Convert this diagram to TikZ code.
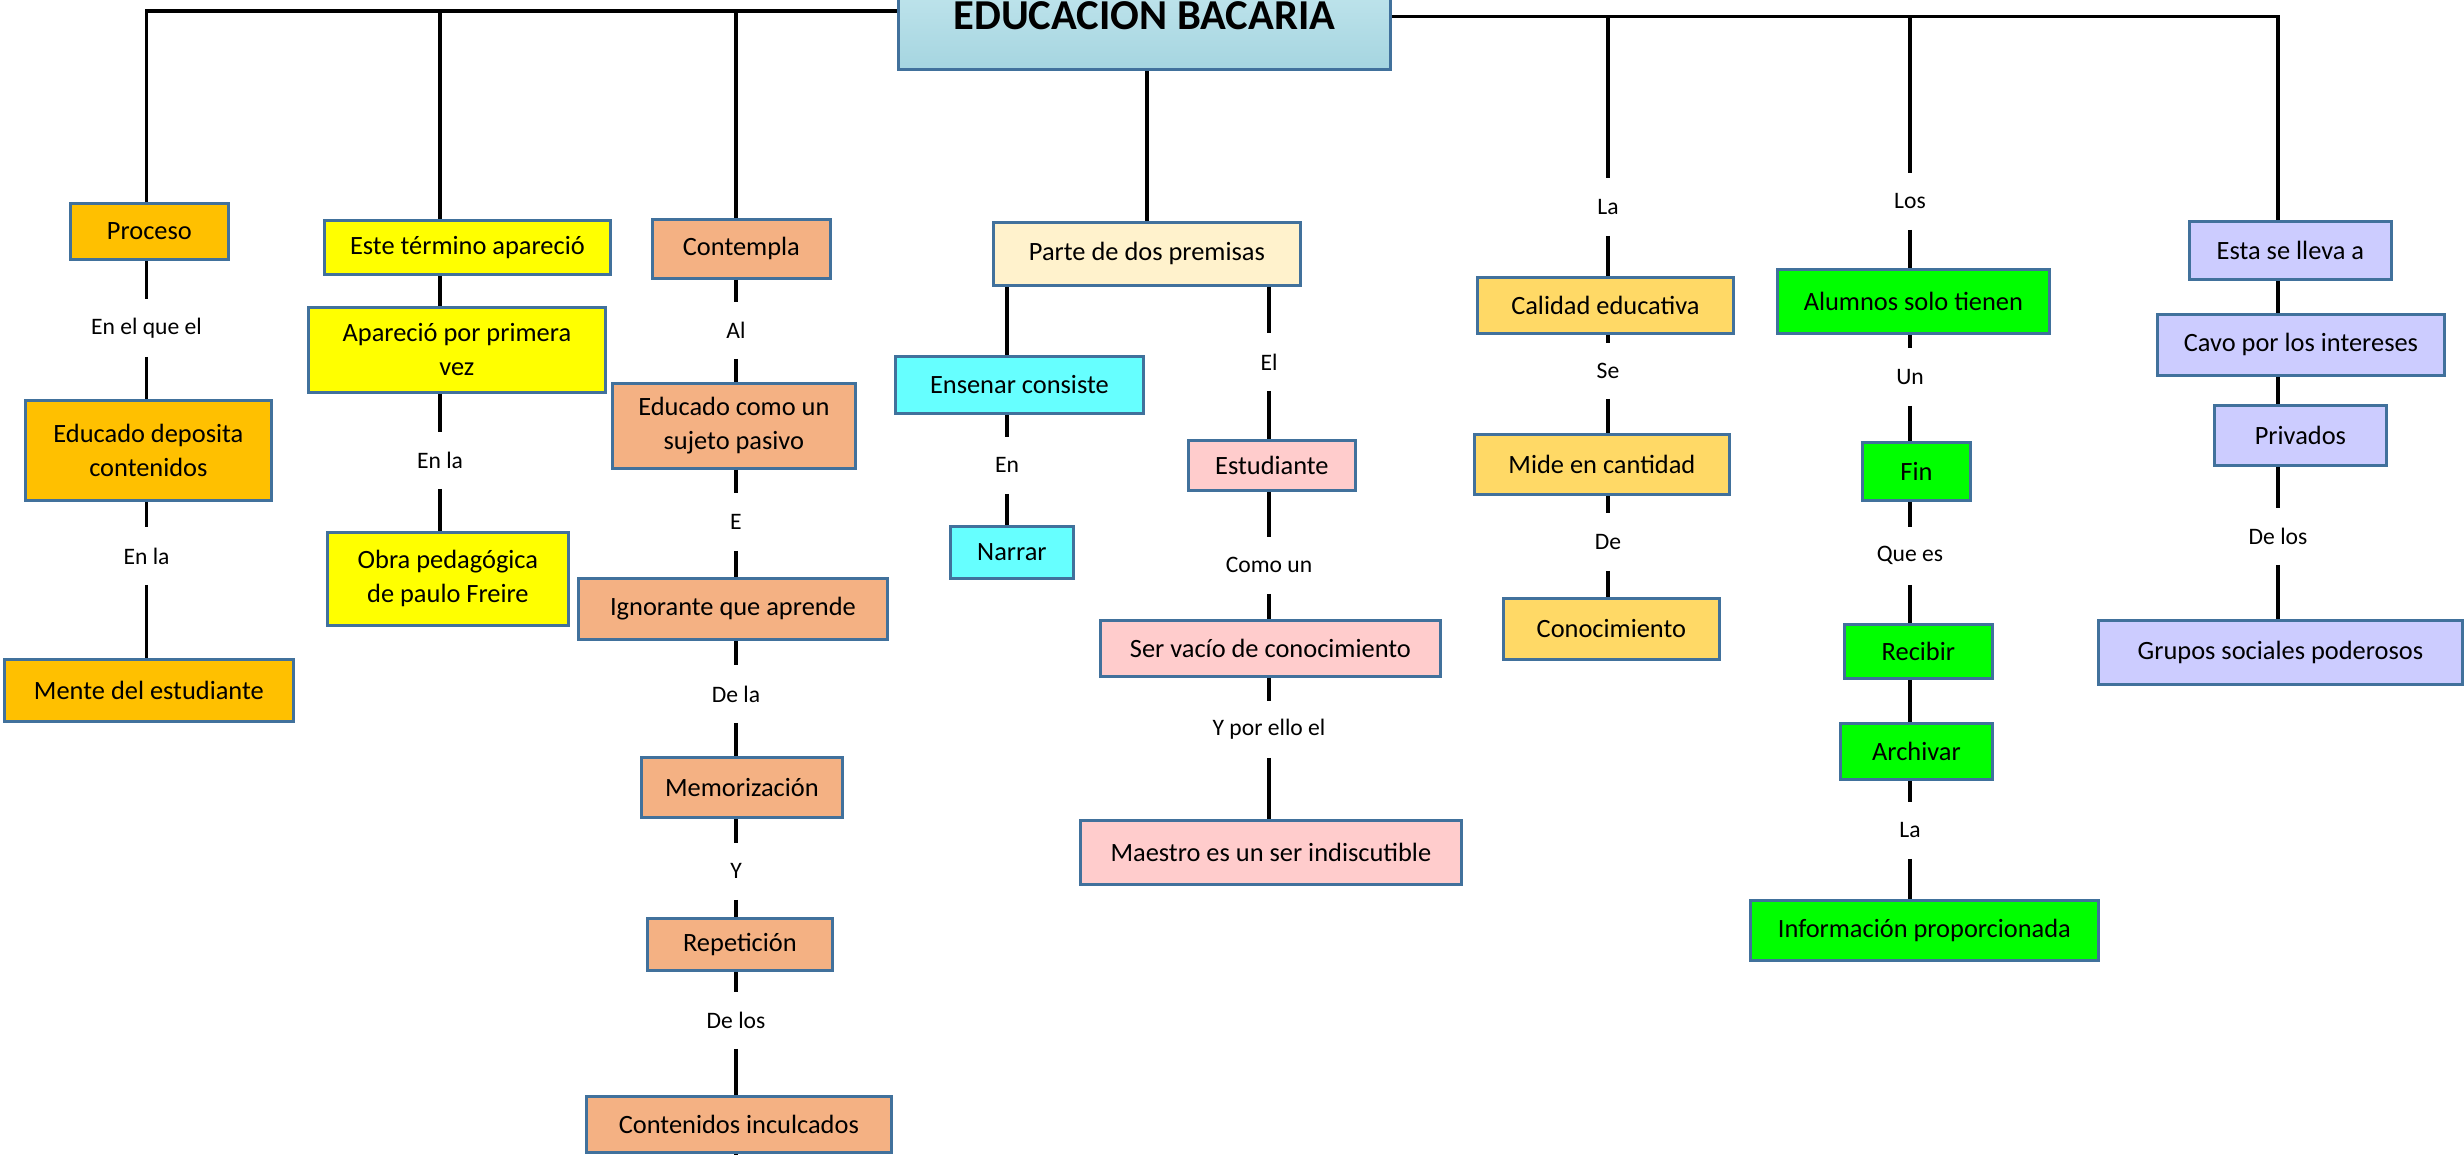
\documentclass[tikz,border=0pt]{standalone}
\usepackage{fontspec}
\setmainfont{Carlito}
\usetikzlibrary{calc}
\definecolor{bord}{RGB}{65,113,156}
\definecolor{cOr}{HTML}{FFC000}
\definecolor{cYe}{HTML}{FFFF00}
\definecolor{cSa}{HTML}{F4B183}
\definecolor{cCr}{HTML}{FFF2CC}
\definecolor{cCy}{HTML}{66FFFF}
\definecolor{cPk}{HTML}{FFCCCC}
\definecolor{cGo}{HTML}{FFD966}
\definecolor{cGr}{HTML}{00FF00}
\definecolor{cLa}{HTML}{CCCCFF}
\definecolor{titA}{RGB}{200,233,240}
\definecolor{titB}{RGB}{165,213,224}
\begin{document}
\begin{tikzpicture}[x=0.5pt,y=-0.5pt,
  box/.style={draw=bord,line width=1.4pt,inner sep=2pt,align=center,
    font=\fontsize{13.2pt}{17pt}\selectfont,anchor=north west},
  lbl/.style={inner sep=0pt,font=\fontsize{11.8pt}{14pt}\selectfont,anchor=north},
  conn/.style={line width=1.9pt,black}]
\path[use as bounding box] (0,0) rectangle (2464,1155);
\clip (0,0) rectangle (2464,1155);
\fill[white] (0,0) rectangle (2464,1155);

% column coordinates
\coordinate (c1) at (146.5,0);
\coordinate (c2) at (440,0);
\coordinate (c3) at (736,0);
\coordinate (cm) at (1147,0);
\coordinate (cp) at (1007,0);
\coordinate (ce) at (1269,0);
\coordinate (c5) at (1608,0);
\coordinate (c6) at (1910,0);
\coordinate (c7) at (2278,0);
\coordinate (topL) at (0,11);
\coordinate (topR) at (0,16.5);
\coordinate (cend) at (736,1165);

% title
\node[draw=bord,line width=1.4pt,anchor=north west,minimum width=246pt,minimum height=54pt,
  top color=titA,bottom color=titB,inner sep=0pt,
  font=\fontsize{21.3pt}{25pt}\selectfont\bfseries] (title) at (897,-40) {EDUCACION BACARIA};

% boxes
\node[box,fill=cOr,minimum width=79pt,minimum height=28pt] (proceso) at (69,202) {Proceso};
\node[box,fill=cOr,minimum width=123pt,minimum height=50pt] (educado) at (24,399) {Educado deposita\\contenidos};
\node[box,fill=cOr,minimum width=144.5pt,minimum height=31pt] (mente) at (3,658) {Mente del estudiante};
\node[box,fill=cYe,minimum width=143pt,minimum height=27pt] (este) at (323,219) {Este término apareció};
\node[box,fill=cYe,minimum width=148.5pt,minimum height=42.5pt] (aparecio) at (307,306) {Apareció por primera\\vez};
\node[box,fill=cYe,minimum width=120.5pt,minimum height=46.5pt] (obra) at (326,531) {Obra pedagógica\\de paulo Freire};
\node[box,fill=cSa,minimum width=89pt,minimum height=29.5pt] (contempla) at (651,218) {Contempla};
\node[box,fill=cSa,minimum width=121.5pt,minimum height=42.5pt] (edcomo) at (611,382) {Educado como un\\sujeto pasivo};
\node[box,fill=cSa,minimum width=154.5pt,minimum height=30.5pt] (ignorante) at (577,577) {Ignorante que aprende};
\node[box,fill=cSa,minimum width=100.5pt,minimum height=30pt] (memo) at (640,756) {Memorización};
\node[box,fill=cSa,minimum width=92.5pt,minimum height=26pt] (repe) at (646,917) {Repetición};
\node[box,fill=cSa,minimum width=152.5pt,minimum height=28pt] (conten) at (585,1095) {Contenidos inculcados};
\node[box,fill=cCr,minimum width=153.5pt,minimum height=31.5pt] (parte) at (992,221) {Parte de dos premisas};
\node[box,fill=cCy,minimum width=124pt,minimum height=28.5pt] (ensenar) at (894,355) {Ensenar consiste};
\node[box,fill=cCy,minimum width=61.5pt,minimum height=26pt] (narrar) at (949,525) {Narrar};
\node[box,fill=cPk,minimum width=83.5pt,minimum height=25pt] (estud) at (1187,439) {Estudiante};
\node[box,fill=cPk,minimum width=170pt,minimum height=28pt] (vacio) at (1099,619) {Ser vacío de conocimiento};
\node[box,fill=cPk,minimum width=190.5pt,minimum height=32pt] (maestro) at (1079,819) {Maestro es un ser indiscutible};
\node[box,fill=cGo,minimum width=128pt,minimum height=28pt] (calidad) at (1476,276) {Calidad educativa};
\node[box,fill=cGo,minimum width=127.5pt,minimum height=30pt] (mide) at (1473,433) {Mide en cantidad};
\node[box,fill=cGo,minimum width=108pt,minimum height=30.5pt] (conoc) at (1502,597) {Conocimiento};
\node[box,fill=cGr,minimum width=136pt,minimum height=32pt] (alumnos) at (1776,268) {Alumnos solo tienen};
\node[box,fill=cGr,minimum width=54pt,minimum height=29pt] (fin) at (1861,441) {Fin};
\node[box,fill=cGr,minimum width=74pt,minimum height=27pt] (recibir) at (1843,623) {Recibir};
\node[box,fill=cGr,minimum width=76pt,minimum height=28pt] (archivar) at (1839,722) {Archivar};
\node[box,fill=cGr,minimum width=174pt,minimum height=30pt] (info) at (1749,899) {Información proporcionada};
\node[box,fill=cLa,minimum width=101pt,minimum height=29pt] (esta) at (2188,220) {Esta se lleva a};
\node[box,fill=cLa,minimum width=143.5pt,minimum height=30.5pt] (cavo) at (2156,313) {Cavo por los intereses};
\node[box,fill=cLa,minimum width=86pt,minimum height=30pt] (priv) at (2213,404) {Privados};
\node[box,fill=cLa,minimum width=182pt,minimum height=32pt] (grupos) at (2097,619) {Grupos sociales poderosos};

% labels
\node[lbl,minimum height=28.5pt] (l1a) at (146.5,299) {En el que el};
\node[lbl,minimum height=28.5pt] (l1b) at (146.5,527) {En la};
\node[lbl,minimum height=28pt] (l2a) at (440,432) {En la};
\node[lbl,minimum height=28pt] (l3a) at (736,302) {Al};
\node[lbl,minimum height=28.5pt] (l3b) at (736,493) {E};
\node[lbl,minimum height=28.5pt] (l3c) at (736,665) {De la};
\node[lbl,minimum height=28pt] (l3d) at (736,843) {Y};
\node[lbl,minimum height=28pt] (l3e) at (736,992) {De los};
\node[lbl,minimum height=28pt] (lEn) at (1007,437) {En};
\node[lbl,minimum height=28.5pt] (lEl) at (1269,333) {El};
\node[lbl,minimum height=28pt] (lComo) at (1269,537) {Como un};
\node[lbl,minimum height=28pt] (lYpor) at (1269,701) {Y por ello el};
\node[lbl,minimum height=28.5pt] (lLa) at (1608,178) {La};
\node[lbl,minimum height=27.5pt] (lSe) at (1608,343) {Se};
\node[lbl,minimum height=28.5pt] (lDe) at (1608,513) {De};
\node[lbl,minimum height=28pt] (lLos) at (1910,173) {Los};
\node[lbl,minimum height=28.5pt] (lUn) at (1910,348) {Un};
\node[lbl,minimum height=28.5pt] (lQue) at (1910,527) {Que es};
\node[lbl,minimum height=28pt] (lLa2) at (1910,802) {La};
\node[lbl,minimum height=28pt] (lDelos) at (2278,508) {De los};

% top connectors
\draw[conn] (proceso.north -| c1) -- (c1 |- topL) -- (title.west |- topL);
\draw[conn] (este.north -| c2) -- (c2 |- topL);
\draw[conn] (contempla.north -| c3) -- (c3 |- topL);
\draw[conn] (title.east |- topR) -- (c7 |- topR) -- (esta.north -| c7);
\draw[conn] (c5 |- topR) -- (lLa.north);
\draw[conn] (c6 |- topR) -- (lLos.north);
\draw[conn] (title.south -| cm) -- (parte.north -| cm);

% column 1
\draw[conn] (proceso.south -| c1) -- (l1a.north);
\draw[conn] (l1a.south) -- (educado.north -| c1);
\draw[conn] (educado.south -| c1) -- (l1b.north);
\draw[conn] (l1b.south) -- (mente.north -| c1);

% column 2
\draw[conn] (este.south -| c2) -- (aparecio.north -| c2);
\draw[conn] (aparecio.south -| c2) -- (l2a.north);
\draw[conn] (l2a.south) -- (obra.north -| c2);

% column 3
\draw[conn] (contempla.south -| c3) -- (l3a.north);
\draw[conn] (l3a.south) -- (edcomo.north -| c3);
\draw[conn] (edcomo.south -| c3) -- (l3b.north);
\draw[conn] (l3b.south) -- (ignorante.north -| c3);
\draw[conn] (ignorante.south -| c3) -- (l3c.north);
\draw[conn] (l3c.south) -- (memo.north -| c3);
\draw[conn] (memo.south -| c3) -- (l3d.north);
\draw[conn] (l3d.south) -- (repe.north -| c3);
\draw[conn] (repe.south -| c3) -- (l3e.north);
\draw[conn] (l3e.south) -- (conten.north -| c3);
\draw[conn] (conten.south -| c3) -- (cend);

% middle
\draw[conn] (parte.south -| cp) -- (ensenar.north -| cp);
\draw[conn] (ensenar.south -| cp) -- (lEn.north);
\draw[conn] (lEn.south) -- (narrar.north -| cp);
\draw[conn] (parte.south -| ce) -- (lEl.north);
\draw[conn] (lEl.south) -- (estud.north -| ce);
\draw[conn] (estud.south -| ce) -- (lComo.north);
\draw[conn] (lComo.south) -- (vacio.north -| ce);
\draw[conn] (vacio.south -| ce) -- (lYpor.north);
\draw[conn] (lYpor.south) -- (maestro.north -| ce);

% La column
\draw[conn] (lLa.south) -- (calidad.north -| c5);
\draw[conn] (calidad.south -| c5) -- (lSe.north);
\draw[conn] (lSe.south) -- (mide.north -| c5);
\draw[conn] (mide.south -| c5) -- (lDe.north);
\draw[conn] (lDe.south) -- (conoc.north -| c5);

% Los column
\draw[conn] (lLos.south) -- (alumnos.north -| c6);
\draw[conn] (alumnos.south -| c6) -- (lUn.north);
\draw[conn] (lUn.south) -- (fin.north -| c6);
\draw[conn] (fin.south -| c6) -- (lQue.north);
\draw[conn] (lQue.south) -- (recibir.north -| c6);
\draw[conn] (recibir.south -| c6) -- (archivar.north -| c6);
\draw[conn] (archivar.south -| c6) -- (lLa2.north);
\draw[conn] (lLa2.south) -- (info.north -| c6);

% right column
\draw[conn] (esta.south -| c7) -- (cavo.north -| c7);
\draw[conn] (cavo.south -| c7) -- (priv.north -| c7);
\draw[conn] (priv.south -| c7) -- (lDelos.north);
\draw[conn] (lDelos.south) -- (grupos.north -| c7);
\end{tikzpicture}
\end{document}
